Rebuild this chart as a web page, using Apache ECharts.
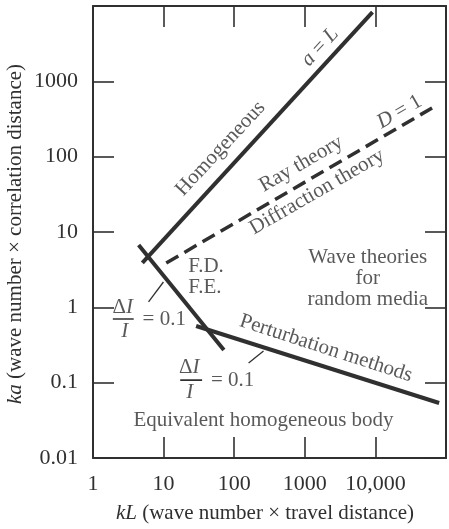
<!DOCTYPE html>
<html>
<head>
<meta charset="utf-8">
<script src="https://cdn.jsdelivr.net/npm/echarts@6/dist/echarts.min.js"></script>
<style>
html,body{margin:0;padding:0;background:#fff;}
#chart{width:449px;height:529px;}
</style>
</head>
<body>
<div id="chart"></div>
<script>
// ---- data ----
const xTickLabels = {1: '1', 10: '10', 100: '100', 1000: '1000', 10000: '10,000'};
const yTickLabels = {0.01: '0.01', 0.1: '0.1', 1: '1', 10: '10', 100: '100', 1000: '1000'};

const lineAequalsL = [[5.0, 3.9], [9100, 8300]];
const lineDeltaIUpper = [[4.43, 6.73], [71.4, 0.272]];
const lineDequals1 = [[10.9, 3.88], [63500, 443]];
const linePerturbation = [[28.9, 0.565], [80000, 0.0537]];
const leaderUpper = [[6.12, 1.18], [9.94, 2.17]];
const leaderLower = [[160, 0.182], [260, 0.263]];
const fracBarUpper = [[1.91, 0.70], [3.77, 0.70]];
const fracBarLower = [[17.2, 0.108], [35.1, 0.108]];

const annotations = [
  {text: '{it|a} = {it|L}', at: [1645, 2860], rotate: 47},
  {text: 'Homogeneous', at: [64, 128], rotate: 47},
  {text: '{it|D} = 1', at: [21900, 392], rotate: 30},
  {text: 'Ray theory', at: [890, 80], rotate: 30},
  {text: 'Diffraction theory', at: [1493, 34], rotate: 30},
  {text: 'F.D.\nF.E.', at: [22.3, 2.53], rotate: 0, align: 'left'},
  {text: 'Wave theories\nfor\nrandom media', at: [7800, 2.38], rotate: 0},
  {text: 'Perturbation methods', at: [1995, 0.285], rotate: -18},
  {text: 'Equivalent homogeneous body', at: [260, 0.0319], rotate: 0},
  {text: 'Δ{it|I}', at: [2.64, 1.01], rotate: 0},
  {text: '{it|I}', at: [2.81, 0.471], rotate: 0},
  {text: '= 0.1', at: [5.04, 0.70], rotate: 0, align: 'left'},
  {text: 'Δ{it|I}', at: [23.0, 0.161], rotate: 0},
  {text: '{it|I}', at: [23.5, 0.073], rotate: 0},
  {text: '= 0.1', at: [46.9, 0.108], rotate: 0, align: 'left'}
];

// ---- chart ----
const INK = '#303030';
const FONT = '"Liberation Serif", "DejaVu Serif", serif';
const TXT = 21;
const chart = echarts.init(document.getElementById('chart'), null, {renderer: 'canvas'});

function axisCommon(showLabels, labels) {
  return {
    type: 'log', logBase: 10,
    axisLine: {show: true, lineStyle: {color: INK, width: 2}},
    axisTick: {show: true, inside: true, length: 21, lineStyle: {color: INK, width: 1.6}},
    splitLine: {show: false},
    minorTick: {show: false},
    axisLabel: {
      show: showLabels, margin: 15, color: INK, fontFamily: FONT, fontSize: 22,
      formatter: function (v) { const k = Object.keys(labels || {}).find(kk => Math.abs(+kk - v) / v < 1e-6); return k !== undefined ? labels[k] : ''; }
    }
  };
}

function seg(data, width, type) {
  return {
    type: 'line', data: data, showSymbol: false, symbol: 'none', silent: true,
    lineStyle: {color: INK, width: width, type: type || 'solid', cap: 'butt'},
    xAxisIndex: 0, yAxisIndex: 0, z: 3
  };
}

const richStyles = {it: {fontStyle: 'italic', fontFamily: FONT, fontSize: TXT, color: INK}};

const option = {
  backgroundColor: '#fff',
  animation: false,
  grid: {left: 93, right: -1, top: 6, bottom: 71, containLabel: false},
  xAxis: [
    Object.assign(axisCommon(true, xTickLabels), {min: 1, max: 100000, position: 'bottom'}),
    Object.assign(axisCommon(false), {min: 1, max: 100000, position: 'top'})
  ],
  yAxis: [
    Object.assign(axisCommon(true, yTickLabels), {min: 0.01, max: 10000, position: 'left'}),
    Object.assign(axisCommon(false), {min: 0.01, max: 10000, position: 'right'})
  ],
  graphic: [
    {type: 'text', x: 15, y: 234, rotation: Math.PI / 2,
     style: {text: '{it|ka} (wave number × correlation distance)', rich: richStyles,
             fill: INK, font: TXT + 'px ' + FONT, align: 'center', verticalAlign: 'middle'}},
    {type: 'text', x: 265, y: 513,
     style: {text: '{it|kL} (wave number × travel distance)', rich: richStyles,
             fill: INK, font: TXT + 'px ' + FONT, align: 'center', verticalAlign: 'middle'}}
  ],
  series: [
    seg(lineAequalsL, 4),
    seg(lineDeltaIUpper, 4),
    seg(lineDequals1, 3.5, [14, 7]),
    seg(linePerturbation, 4),
    seg(leaderUpper, 1.3),
    seg(leaderLower, 1.3),
    seg(fracBarUpper, 1.6),
    seg(fracBarLower, 1.6),
    {
      type: 'scatter', symbolSize: 0, silent: true, z: 4,
      data: annotations.map(a => ({
        value: a.at,
        label: {
          show: true, position: 'inside', formatter: a.text, rotate: a.rotate,
          align: a.align || 'center', verticalAlign: 'middle',
          color: INK, fontFamily: FONT, fontSize: TXT, lineHeight: 21, rich: richStyles
        }
      }))
    }
  ]
};
chart.setOption(option);
</script>
</body>
</html>
